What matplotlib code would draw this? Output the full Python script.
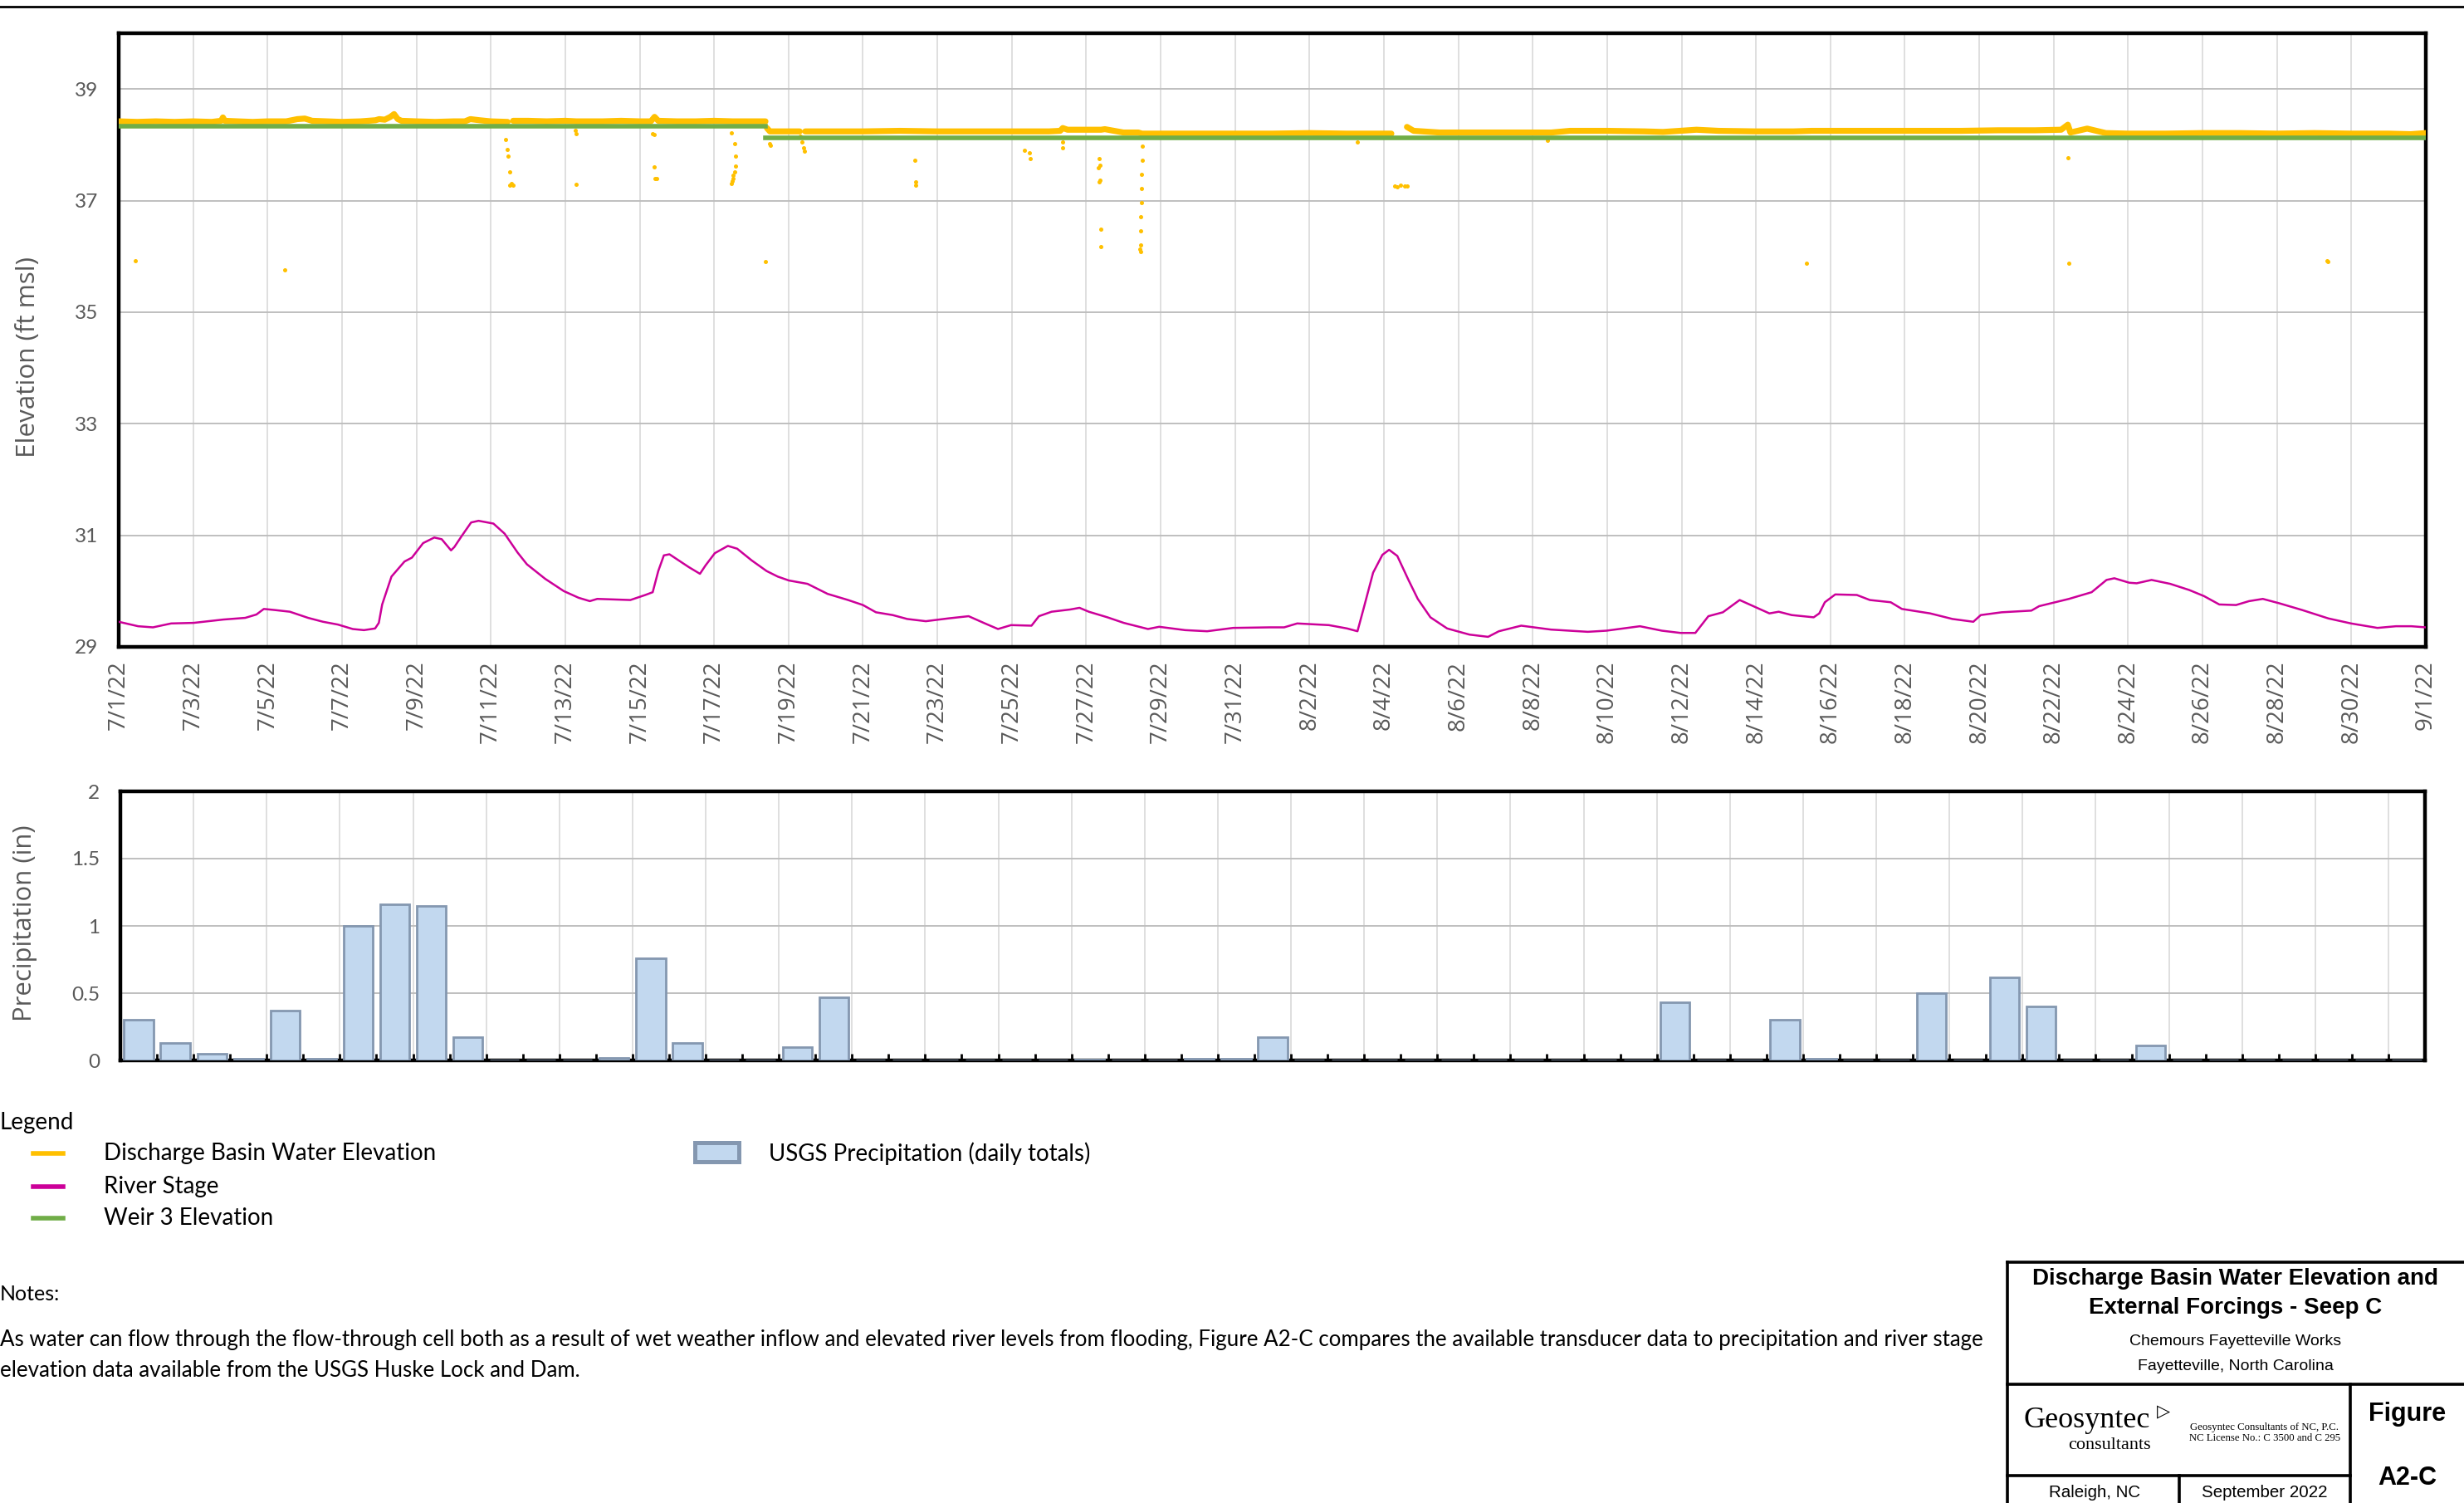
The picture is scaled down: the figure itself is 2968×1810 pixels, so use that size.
import numpy as np
import matplotlib
matplotlib.use('Agg')
import matplotlib.pyplot as plt
from matplotlib.lines import Line2D
from matplotlib.patches import Rectangle

# ---------------- data ----------------
# x values are days since 7/1/22 00:00
tick_days = list(range(0, 63, 2))
tick_labels = ['7/1/22', '7/3/22', '7/5/22', '7/7/22', '7/9/22', '7/11/22', '7/13/22',
               '7/15/22', '7/17/22', '7/19/22', '7/21/22', '7/23/22', '7/25/22', '7/27/22',
               '7/29/22', '7/31/22', '8/2/22', '8/4/22', '8/6/22', '8/8/22', '8/10/22',
               '8/12/22', '8/14/22', '8/16/22', '8/18/22', '8/20/22', '8/22/22', '8/24/22',
               '8/26/22', '8/28/22', '8/30/22', '9/1/22']

# Discharge basin water elevation (main trace); NaN marks data gaps
basin_days = [0, 0.5, 1.0, 1.5, 2.0, 2.5, 2.75, 2.8, 2.85, 3.2, 3.6, 4.0, 4.5, 4.8, 5.0, 5.2,
              5.6, 6.0, 6.5, 6.9, 7.0, 7.15, 7.3, 7.4, 7.5, 7.6, 8.0, 8.5, 9.0, 9.3, 9.45, 9.7,
              10.0, 10.45, 10.5, 10.6, 11.0, 11.5, 12.0, 12.3, 12.5, 13.0, 13.5, 14.0, 14.3,
              14.4, 14.5, 15.0, 15.5, 16.0, 16.5, 17.0, 17.38, 17.4,
              17.42, 17.5, 18.0, 18.3, 18.35, 18.45, 19.0, 20.0, 21.0, 22.0, 23.0, 24.0, 25.0,
              25.3, 25.37, 25.5, 26.0, 26.4, 26.5, 27.0, 27.4, 27.5, 28.0, 29.0, 30.0, 31.0,
              32.0, 33.0, 34.0, 34.2, 34.4, 34.62, 34.8, 35.5, 36.5, 37.5, 38.5, 39.0, 40.0,
              41.0, 41.5, 42.4, 43.0, 44.0, 45.0, 45.5, 46.5, 47.5, 48.5, 49.5, 50.5, 51.5,
              52.2, 52.38, 52.45, 52.9, 53.4, 54.0, 55.0, 56.0, 57.0, 58.0, 59.0, 60.0,
              61.0, 61.6, 62.0]
basin_elev = [38.42, 38.41, 38.42, 38.41, 38.42, 38.41, 38.43, 38.49, 38.43, 38.42, 38.41,
              38.42, 38.42, 38.46, 38.47, 38.43, 38.42, 38.41, 38.42, 38.44, 38.46, 38.45,
              38.50, 38.55, 38.46, 38.43, 38.42, 38.41, 38.42, 38.42, 38.46, 38.44, 38.42,
              38.41, np.nan, 38.43, 38.43, 38.42, 38.43, 38.42, 38.42, 38.42, 38.43, 38.42,
              38.42, 38.50, 38.43, 38.42, 38.42, 38.43, 38.42, 38.42, 38.42, np.nan,
              38.30, 38.24, 38.24, 38.24, np.nan, 38.24, 38.24, 38.24, 38.25, 38.24, 38.24,
              38.24, 38.24, 38.25, 38.30, 38.27, 38.27, 38.27, 38.28, 38.22, 38.22, 38.20,
              38.20, 38.20, 38.20, 38.20, 38.21, 38.20, 38.20, 38.20, np.nan, 38.32, 38.25,
              38.22, 38.22, 38.22, 38.22, 38.25, 38.25, 38.24, 38.23, 38.27, 38.25, 38.24,
              38.24, 38.25, 38.25, 38.25, 38.25, 38.25, 38.26, 38.26, 38.27, 38.36, 38.22,
              38.29, 38.21, 38.20, 38.20, 38.21, 38.21, 38.20, 38.21, 38.20, 38.20, 38.19,
              38.21]

# Discharge basin outlier readings (isolated points)
outlier_days = [0.45, 4.47, 10.4, 10.45, 10.47, 10.5, 10.55, 10.5, 10.55, 10.6, 12.26, 12.3,
                12.3, 14.35, 14.4, 14.38, 14.45, 14.42, 16.47, 16.55, 16.58, 16.57, 16.55,
                16.52, 16.5, 16.48, 16.47, 17.38, 17.5, 17.52, 18.32, 18.36, 18.4, 18.43,
                21.4, 21.42, 21.41, 24.33, 24.48, 24.5, 25.37, 25.37, 26.35, 26.38, 26.33,
                26.36, 26.34, 26.4, 26.4, 27.5, 27.5, 27.49, 27.48, 27.48, 27.47, 27.47,
                27.46, 27.45, 27.46, 33.29, 34.28, 34.35, 34.45, 34.55, 34.62, 38.4, 45.35,
                52.39, 52.41, 59.35, 59.36]
outlier_elev = [35.92, 35.76, 38.10, 37.92, 37.79, 37.52, 37.29, 37.27, 37.30, 37.28, 38.26,
                38.20, 37.29, 38.20, 38.18, 37.61, 37.39, 37.40, 38.22, 38.02, 37.80, 37.62,
                37.52, 37.45, 37.40, 37.35, 37.30, 35.90, 38.02, 37.99, 38.15, 38.05, 37.95,
                37.89, 37.72, 37.34, 37.27, 37.90, 37.86, 37.75, 38.05, 37.94, 37.75, 37.64,
                37.59, 37.36, 37.33, 36.49, 36.17, 37.98, 37.72, 37.47, 37.21, 36.96, 36.71,
                36.46, 36.20, 36.13, 36.09, 38.05, 37.26, 37.25, 37.27, 37.26, 37.26, 38.08,
                35.87, 37.77, 35.87, 35.92, 35.90]

# River stage (USGS Huske Lock and Dam)
river_days = [0.0, 0.52, 0.92, 1.41, 2.01, 2.81, 3.40, 3.70, 3.90, 4.20, 4.60, 5.09, 5.49,
              5.89, 6.29, 6.59, 6.89, 6.99, 7.08, 7.33, 7.68, 7.88, 8.18, 8.48, 8.68, 8.93,
              9.02, 9.22, 9.47, 9.67, 10.07, 10.37, 10.72, 10.97, 11.46, 11.96, 12.36, 12.66,
              12.86, 13.75, 14.15, 14.35, 14.50, 14.65, 14.80, 15.32, 15.62, 15.77, 16.02,
              16.37, 16.62, 17.01, 17.41, 17.71, 18.01, 18.51, 19.05, 19.60, 20.00, 20.35,
              20.80, 21.19, 21.69, 22.29, 22.84, 23.28, 23.63, 23.98, 24.53, 24.73, 25.07,
              25.57, 25.82, 26.07, 26.57, 27.01, 27.66, 27.96, 28.66, 29.25, 29.95, 30.93,
              31.32, 31.67, 32.52, 33.01, 33.29, 33.46, 33.71, 33.96, 34.14, 34.36, 34.66,
              34.91, 35.25, 35.70, 36.30, 36.80, 37.09, 37.69, 38.49, 39.48, 39.98, 40.88,
              41.47, 41.97, 42.37, 42.72, 43.11, 43.56, 43.96, 44.36, 44.61, 44.96, 45.55,
              45.70, 45.85, 46.13, 46.71, 47.06, 47.62, 47.92, 48.68, 49.28, 49.84, 50.04,
              50.60, 51.40, 51.61, 52.41, 53.02, 53.42, 53.63, 54.03, 54.23, 54.63, 55.13,
              55.64, 56.04, 56.45, 56.90, 57.25, 57.62, 58.07, 58.68, 59.38, 59.99, 60.70,
              61.20, 61.61, 62.0]
river_stage = [29.45, 29.37, 29.35, 29.42, 29.43, 29.49, 29.52, 29.58, 29.68, 29.66, 29.63,
               29.52, 29.45, 29.40, 29.32, 29.30, 29.33, 29.43, 29.76, 30.26, 30.53, 30.60,
               30.86, 30.96, 30.93, 30.73, 30.79, 30.99, 31.23, 31.26, 31.21, 31.03, 30.69,
               30.48, 30.22, 30.00, 29.88, 29.82, 29.86, 29.84, 29.93, 29.98, 30.36, 30.64,
               30.66, 30.43, 30.31, 30.46, 30.68, 30.81, 30.76, 30.55, 30.36, 30.26, 30.19,
               30.13, 29.95, 29.84, 29.75, 29.62, 29.57, 29.50, 29.46, 29.51, 29.55, 29.42,
               29.32, 29.39, 29.38, 29.55, 29.63, 29.67, 29.70, 29.63, 29.53, 29.43, 29.32,
               29.36, 29.30, 29.28, 29.34, 29.35, 29.35, 29.42, 29.39, 29.33, 29.28, 29.70,
               30.33, 30.65, 30.74, 30.63, 30.20, 29.86, 29.53, 29.33, 29.22, 29.18, 29.28,
               29.38, 29.31, 29.27, 29.29, 29.37, 29.29, 29.25, 29.25, 29.55, 29.62, 29.84,
               29.72, 29.60, 29.63, 29.57, 29.53, 29.60, 29.80, 29.94, 29.93, 29.84, 29.80,
               29.68, 29.60, 29.50, 29.45, 29.57, 29.62, 29.65, 29.73, 29.86, 29.98, 30.20,
               30.23, 30.15, 30.14, 30.20, 30.13, 30.02, 29.91, 29.76, 29.75, 29.82, 29.86,
               29.78, 29.66, 29.51, 29.42, 29.34, 29.37, 29.37, 29.35]

# Weir 3 elevation (two constant settings)
weir_days = [0.0, 17.38, np.nan, 17.38, 62.0]
weir_elev = [38.33, 38.33, np.nan, 38.12, 38.12]

# USGS precipitation, daily totals 7/1/22 .. 9/1/22 (inches)
precip_in = [0.30, 0.13, 0.05, 0.01, 0.37, 0.01, 1.00, 1.16, 1.15, 0.17,
             0.0, 0.0, 0.0, 0.02, 0.76, 0.13, 0.0, 0.0, 0.10, 0.47,
             0.0, 0.0, 0.0, 0.0, 0.0, 0.0, 0.005, 0.0, 0.0, 0.01,
             0.01, 0.17, 0.0, 0.0, 0.0, 0.0, 0.0, 0.0, 0.0, 0.0,
             0.0, 0.0, 0.43, 0.0, 0.0, 0.30, 0.01, 0.0, 0.0, 0.50,
             0.0, 0.62, 0.40, 0.0, 0.0, 0.11, 0.0, 0.0, 0.0, 0.0,
             0.0, 0.0, 0.0]

elev_ticks = [29, 31, 33, 35, 37, 39]
precip_ticks = [0, 0.5, 1, 1.5, 2]
precip_tick_labels = ['0', '0.5', '1', '1.5', '2']

# ---------------- styling ----------------
W, H = 2968, 1810
DPI = 200
C_BASIN = '#FFC000'
C_RIVER = '#CC0099'
C_WEIR = '#70AD47'
C_BAR = '#C2D8EF'
C_BAR_EDGE = '#8497B0'
C_TICK = '#595959'
F_BODY = ['Lato', 'DejaVu Sans']
F_AXIS = ['Open Sans', 'DejaVu Sans']
F_ARIAL = ['Liberation Sans', 'DejaVu Sans']
F_SERIF = ['Liberation Serif', 'DejaVu Serif']

plt.rcParams['font.family'] = F_BODY


def fx(x):
    return x / W


def fy(y):
    return 1 - y / H


fig = plt.figure(figsize=(W / DPI, H / DPI), dpi=DPI)
fig.patch.set_facecolor('white')

# top rule
fig.add_artist(Line2D([0, 1], [fy(8), fy(8)], color='black', lw=1.0, transform=fig.transFigure))

# ---------------- elevation chart ----------------
ax1 = fig.add_axes([fx(143), fy(779), fx(2922) - fx(143), fy(40) - fy(779)])
ax1.set_xlim(0, 62)
ax1.set_ylim(29, 40)
ax1.set_axisbelow(True)
ax1.set_xticks(tick_days)
ax1.set_xticklabels(tick_labels, rotation=90, fontsize=10, color=C_TICK, family=F_AXIS)
ax1.set_yticks(elev_ticks)
ax1.set_yticklabels([str(v) for v in elev_ticks], fontsize=8.8, color=C_TICK, family=F_BODY)
ax1.tick_params(axis='both', length=0)
ax1.tick_params(axis='x', pad=6)
ax1.tick_params(axis='y', pad=9)
ax1.grid(axis='y', color='#BFBFBF', lw=0.7)
ax1.grid(axis='x', color='#D9D9D9', lw=0.6)
for s in ax1.spines.values():
    s.set_linewidth(1.6)
    s.set_color('black')

ax1.plot(river_days, river_stage, color=C_RIVER, lw=0.9, zorder=3)
ax1.plot(basin_days, basin_elev, color=C_BASIN, lw=2.6, solid_capstyle='round', zorder=4)
ax1.plot(outlier_days, outlier_elev, linestyle='none', marker='o', ms=1.8, mew=0,
         color=C_BASIN, zorder=4)
ax1.plot(weir_days, weir_elev, color=C_WEIR, lw=2.0, zorder=5)
fig.text(fx(34), fy(430), 'Elevation (ft msl)', rotation=90, ha='center', va='center',
         fontsize=11.3, color=C_TICK, family=F_AXIS)

# ---------------- precipitation chart ----------------
ax2 = fig.add_axes([fx(145), fy(1277), fx(2921) - fx(145), fy(953) - fy(1277)])
n_days = len(precip_in)
ax2.set_xlim(0, n_days)
ax2.set_ylim(0, 2)
ax2.set_axisbelow(True)
bar_x = np.arange(n_days) + 0.5
ax2.bar(bar_x, precip_in, width=0.8, color=C_BAR, edgecolor=C_BAR_EDGE, linewidth=1.0, zorder=3)
ax2.set_xticks(np.arange(0, n_days + 1, 2))
ax2.set_xticks(np.arange(0, n_days + 1, 1), minor=True)
ax2.set_xticklabels([])
ax2.tick_params(axis='x', which='both', direction='in', length=3, width=1.0, color='black')
ax2.set_yticks(precip_ticks)
ax2.set_yticklabels(precip_tick_labels, fontsize=8.8, color=C_TICK, family=F_BODY)
ax2.tick_params(axis='y', length=0, pad=9)
ax2.grid(axis='y', color='#BFBFBF', lw=0.7)
ax2.grid(axis='x', which='major', color='#D9D9D9', lw=0.6)
for s in ax2.spines.values():
    s.set_linewidth(1.6)
    s.set_color('black')
fig.text(fx(30), fy(1112), 'Precipitation (in)', rotation=90, ha='center',
         va='center', fontsize=11.2, color=C_TICK, family=F_AXIS)

# ---------------- legend ----------------
fig.text(fx(0), fy(1352), 'Legend', fontsize=10, va='center', ha='left', color='black')
legend_items = [('Discharge Basin Water Elevation', C_BASIN, 1389),
                ('River Stage', C_RIVER, 1429),
                ('Weir 3 Elevation', C_WEIR, 1467)]
for label, col, yy in legend_items:
    fig.add_artist(Line2D([fx(40), fx(76)], [fy(yy), fy(yy)], color=col, lw=2.0,
                          transform=fig.transFigure))
    fig.text(fx(125), fy(yy), label, fontsize=10, va='center', ha='left', color='black')
fig.add_artist(Rectangle((fx(837), fy(1399)), fx(890) - fx(837), fy(1376) - fy(1399),
                         facecolor=C_BAR, edgecolor=C_BAR_EDGE, lw=1.8, transform=fig.transFigure))
fig.text(fx(926), fy(1389), 'USGS Precipitation (daily totals)', fontsize=10, va='center',
         ha='left', color='black')

# ---------------- notes ----------------
fig.text(fx(0), fy(1558), 'Notes:', fontsize=9, va='center', ha='left', color='black')
fig.text(fx(0), fy(1613),
         'As water can flow through the flow-through cell both as a result of wet weather inflow and '
         'elevated river levels from flooding, Figure A2-C compares the available transducer data to '
         'precipitation and river stage', fontsize=9.3, va='center', ha='left', color='black')
fig.text(fx(0), fy(1650), 'elevation data available from the USGS Huske Lock and Dam.', fontsize=9.3,
         va='center', ha='left', color='black')

# ---------------- title block ----------------
def hline(x0, x1, y):
    fig.add_artist(Line2D([fx(x0), fx(x1)], [fy(y), fy(y)], color='black', lw=1.3,
                          transform=fig.transFigure))


def vline(x, y0, y1):
    fig.add_artist(Line2D([fx(x), fx(x)], [fy(y0), fy(y1)], color='black', lw=1.3,
                          transform=fig.transFigure))


hline(2418, W, 1520)
hline(2418, W, 1667)
hline(2418, 2831, 1777)
vline(2418, 1520, H)
vline(2831, 1667, H)
vline(2625, 1777, H)

fig.text(fx(2693), fy(1540), 'Discharge Basin Water Elevation and', fontsize=10, weight='bold',
         ha='center', va='center', family=F_ARIAL)
fig.text(fx(2693), fy(1575), 'External Forcings - Seep C', fontsize=10, weight='bold',
         ha='center', va='center', family=F_ARIAL)
fig.text(fx(2693), fy(1615), 'Chemours Fayetteville Works', fontsize=7.0, ha='center',
         va='center', family=F_ARIAL)
fig.text(fx(2693), fy(1645), 'Fayetteville, North Carolina', fontsize=7.0, ha='center',
         va='center', family=F_ARIAL)
fig.text(fx(2514), fy(1710), 'Geosyntec', fontsize=13, ha='center', va='center', family=F_SERIF)
fig.text(fx(2606), fy(1700), '\u25B7', fontsize=7.5, ha='center', va='center',
         family=['DejaVu Sans'], weight='bold')
fig.text(fx(2541), fy(1740), 'consultants', fontsize=8.0, ha='center', va='center', family=F_SERIF)
fig.text(fx(2728), fy(1719), 'Geosyntec Consultants of NC, P.C.', fontsize=4.6, ha='center',
         va='center', family=F_SERIF)
fig.text(fx(2728), fy(1732), 'NC License No.: C 3500 and C 295', fontsize=4.6, ha='center',
         va='center', family=F_SERIF)
fig.text(fx(2900), fy(1703), 'Figure', fontsize=11, weight='bold', ha='center', va='center',
         family=F_ARIAL)
fig.text(fx(2900), fy(1780), 'A2-C', fontsize=11, weight='bold', ha='center', va='center',
         family=F_ARIAL)
fig.text(fx(2523), fy(1797), 'Raleigh, NC', fontsize=7.4, ha='center', va='center', family=F_ARIAL)
fig.text(fx(2728), fy(1797), 'September 2022', fontsize=7.4, ha='center', va='center',
         family=F_ARIAL)

fig.savefig('out.png', dpi=DPI, facecolor='white')
